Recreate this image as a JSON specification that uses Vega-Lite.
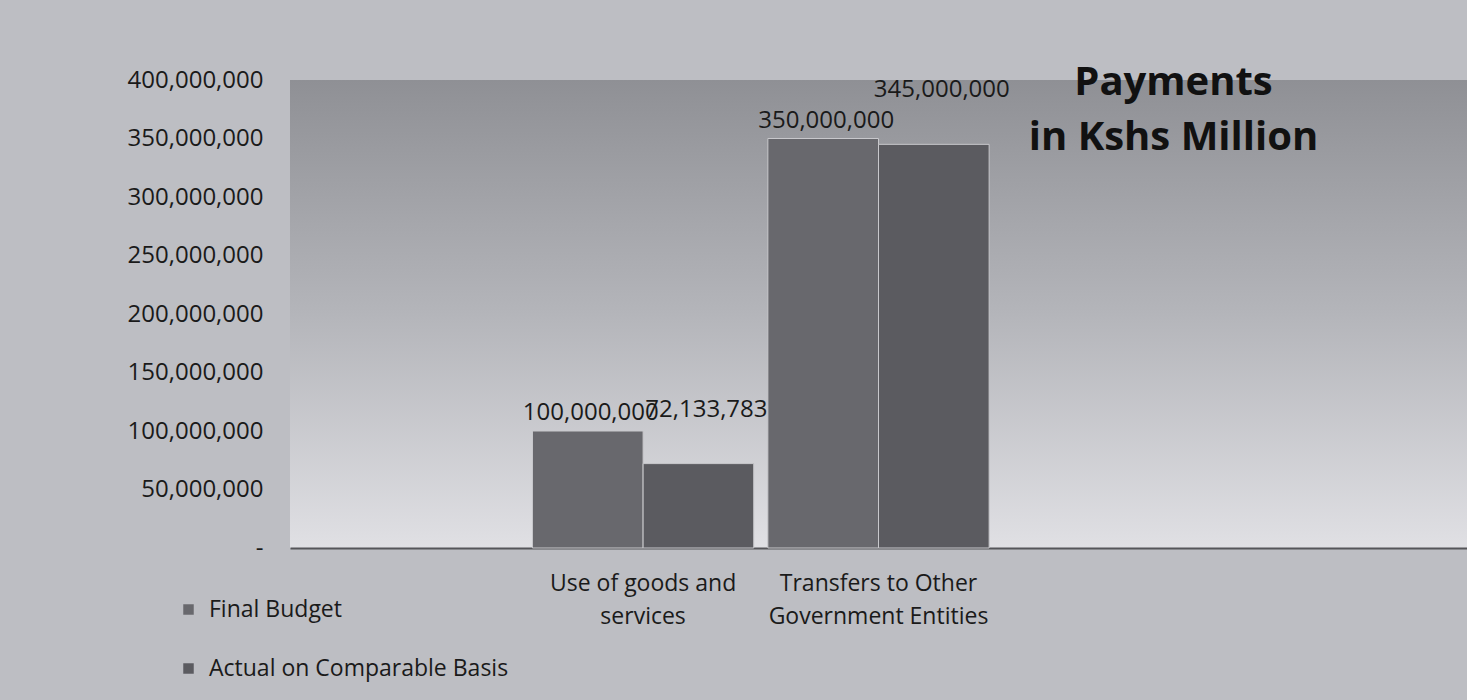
{
  "$schema": "https://vega.github.io/schema/vega-lite/v6.json",
  "width": 1177,
  "height": 468,
  "autosize": {"type": "none"},
  "padding": {"left": 290, "top": 80, "right": 0, "bottom": 152},
  "background": "#bdbec3",
  "config": {
    "font": "Open Sans",
    "view": {
      "stroke": null,
      "fill": {
        "gradient": "linear",
        "x1": 0, "y1": 0, "x2": 0, "y2": 1,
        "stops": [
          {"offset": 0, "color": "#8f9095"},
          {"offset": 0.5, "color": "#b4b5ba"},
          {"offset": 1, "color": "#e0e0e4"}
        ]
      }
    }
  },
  "title": {
    "text": ["Payments", "in Kshs Million"],
    "fontSize": 40,
    "fontWeight": "bold",
    "color": "#111111",
    "anchor": "middle",
    "frame": "group",
    "baseline": "top",
    "orient": "top",
    "offset": -90,
    "dx": 295,
    "lineHeight": 55
  },
  "data": {
    "values": [
      {"category": "Use of goods and services", "series": "Final Budget", "amount": 100000000},
      {"category": "Use of goods and services", "series": "Actual on Comparable Basis", "amount": 72133783},
      {"category": "Transfers to Other Government Entities", "series": "Final Budget", "amount": 350000000},
      {"category": "Transfers to Other Government Entities", "series": "Actual on Comparable Basis", "amount": 345000000}
    ]
  },
  "encoding": {
    "x": {
      "field": "category",
      "type": "nominal",
      "sort": null,
      "scale": {
        "domain": ["", "Use of goods and services", "Transfers to Other Government Entities", " ", "  "],
        "paddingInner": 0.06,
        "paddingOuter": 0.03
      },
      "axis": {
        "title": null,
        "labelAngle": 0,
        "labelFontSize": 23,
        "labelColor": "#1a1a1a",
        "labelPadding": 24,
        "labelLimit": 400,
        "labelLineHeight": 33,
        "labelBaseline": "top",
        "ticks": false,
        "grid": false,
        "domainColor": "#555559",
        "domainWidth": 2,
        "labelExpr": "datum.value == 'Use of goods and services' ? ['Use of goods and', 'services'] : datum.value == 'Transfers to Other Government Entities' ? ['Transfers to Other', 'Government Entities'] : ''"
      }
    },
    "xOffset": {
      "field": "series",
      "type": "nominal",
      "scale": {"domain": ["Final Budget", "Actual on Comparable Basis"], "paddingInner": 0, "paddingOuter": 0}
    },
    "y": {
      "field": "amount",
      "type": "quantitative",
      "scale": {"domain": [0, 400000000]},
      "axis": {
        "title": null,
        "values": [0, 50000000, 100000000, 150000000, 200000000, 250000000, 300000000, 350000000, 400000000],
        "format": ",.0f",
        "labelExpr": "datum.value == 0 ? '-' : datum.label",
        "labelFontSize": 24,
        "labelColor": "#1a1a1a",
        "labelPadding": 27,
        "domain": false,
        "ticks": false,
        "grid": false
      }
    }
  },
  "layer": [
    {
      "mark": {"type": "bar", "stroke": "#c8c8cc", "strokeWidth": 1},
      "encoding": {
        "color": {
          "field": "series",
          "type": "nominal",
          "scale": {"domain": ["Final Budget", "Actual on Comparable Basis"], "range": ["#68686d", "#5b5b60"]},
          "legend": {
            "title": null,
            "orient": "none",
            "legendX": -113,
            "legendY": 518,
            "direction": "vertical",
            "symbolType": "square",
            "symbolSize": 110,
            "symbolStrokeWidth": 0,
            "labelFontSize": 23,
            "labelColor": "#1a1a1a",
            "labelOffset": 9,
            "rowPadding": 35,
            "labelLimit": 500
          }
        }
      }
    },
    {
      "transform": [{"filter": "datum.series == 'Final Budget'"}],
      "mark": {"type": "text", "baseline": "alphabetic", "dy": -11, "dx": 3, "fontSize": 24, "color": "#1a1a1a"},
      "encoding": {
        "text": {"field": "amount", "type": "quantitative", "format": ",.0f"}
      }
    },
    {
      "transform": [{"filter": "datum.series == 'Actual on Comparable Basis'"}],
      "mark": {"type": "text", "baseline": "alphabetic", "dy": -47, "dx": 8, "fontSize": 24, "color": "#1a1a1a"},
      "encoding": {
        "text": {"field": "amount", "type": "quantitative", "format": ",.0f"}
      }
    }
  ]
}
